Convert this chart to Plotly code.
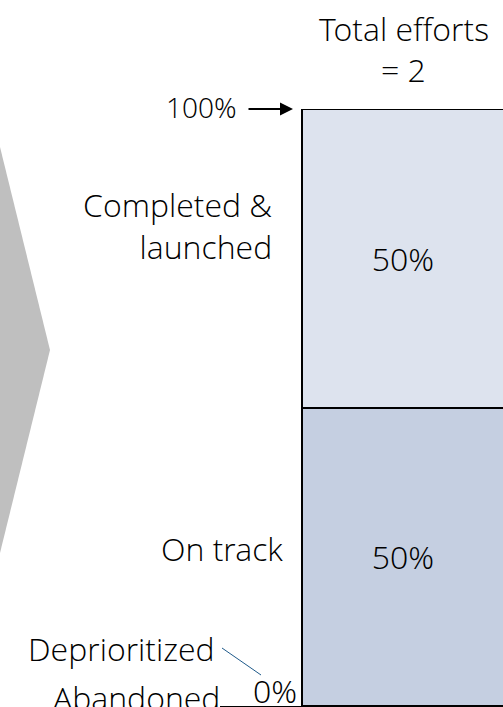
import plotly.graph_objects as go

W, H = 503, 707

# ---- data ----
categories = ["Abandoned", "Deprioritized", "On track", "Completed & launched"]
values = [0.0, 0.0, 0.5, 0.5]
value_labels = ["", "", "50%", "50%"]
colors = ["#C5CFE1", "#C5CFE1", "#C5CFE1", "#DDE3EE"]
total_efforts = 2

FONT = "Open Sans Light, Open Sans"
FS = 32
def px(x):
    return x / W
def py(y):
    return 1 - y / H

fig = go.Figure()
for cat, v, lab, c in zip(categories, values, value_labels, colors):
    fig.add_trace(go.Bar(
        x=[403], y=[v], width=[203], name=cat,
        marker=dict(color=c, line=dict(color="black", width=2)),
        text=[lab], textposition="inside", insidetextanchor="middle",
        textfont=dict(family=FONT, size=FS, color="black", weight=300),
        hoverinfo="skip",
    ))

fig.update_layout(
    width=W, height=H, barmode="stack", showlegend=False,
    margin=dict(l=0, r=0, t=0, b=0),
    paper_bgcolor="white", plot_bgcolor="white",
    uniformtext=dict(minsize=FS, mode="show"),
    xaxis=dict(domain=[px(220), 1], range=[220, 503], showgrid=False, zeroline=False,
               showticklabels=False, showline=True, linecolor="black", linewidth=1.5, ticks=""),
    yaxis=dict(domain=[py(706), py(109)], range=[0, 1], showgrid=False, zeroline=False,
               showticklabels=False, showline=False),
)

# gray chevron
fig.add_shape(type="path", xref="paper", yref="paper",
              path=f"M {px(-20)},{py(147)} L {px(0)},{py(147)} L {px(50)},{py(350)} L {px(0)},{py(553)} L {px(-20)},{py(553)} Z",
              fillcolor="#BFBFBF", line=dict(width=0), layer="below")

# leader line
fig.add_shape(type="line", xref="paper", yref="paper",
              x0=px(222), y0=py(648), x1=px(261), y1=py(675),
              line=dict(color="#1F5A8A", width=1))

def txt(x, y, s, anchor="center", size=FS):
    fig.add_annotation(x=px(x), y=py(y), xref="paper", yref="paper", text=s,
                       showarrow=False, xanchor=anchor, yanchor="middle", align="right",
                       font=dict(family=FONT, size=size, color="black", weight=300))

txt(404, 28, "Total efforts")
txt(403, 70, f"= {total_efforts}")
txt(239, 107, "100%", anchor="right", size=28)
txt(274, 226, "Completed &<br>launched", anchor="right")
txt(285, 548, categories[2], anchor="right")
txt(217, 648, categories[1], anchor="right")
txt(222, 697, categories[0], anchor="right")
txt(299, 690, "0%", anchor="right")

# arrow to 100%
fig.add_annotation(x=px(293), y=py(109), xref="paper", yref="paper", text="",
                   showarrow=True, ax=-46, ay=0, arrowhead=2, arrowsize=1.3,
                   arrowwidth=2, arrowcolor="black")

fig.write_html("out.html", config={"displayModeBar": False},
               post_script="document.body.style.margin='0';")
